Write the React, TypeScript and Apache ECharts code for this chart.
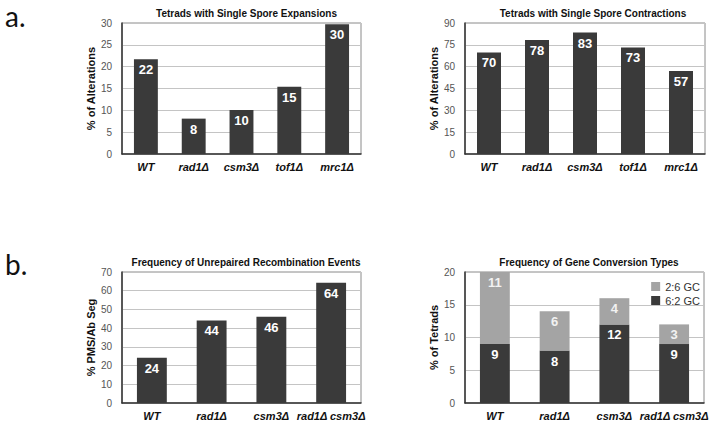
import React, { useEffect, useRef } from "react";
import * as echarts from "echarts";

const catsA = ["WT", "rad1Δ", "csm3Δ", "tof1Δ", "mrc1Δ"];
const expansions = [21.7, 8.1, 10.1, 15.4, 29.7];
const contractions = [69.8, 78.4, 83.4, 73.2, 57.0];
const catsB = ["WT", "rad1Δ", "csm3Δ", "rad1Δ csm3Δ"];
const unrepaired = [24.2, 44.1, 46.1, 64.2];
const gc62 = [9, 8, 12, 9];
const gc26 = [11, 6, 4, 3];

const titles = [
  "Tetrads with Single Spore Expansions",
  "Tetrads with Single Spore Contractions",
  "Frequency of Unrepaired Recombination Events",
  "Frequency of Gene Conversion Types",
];
const yNames = ["% of Alterations", "% of Alterations", "% PMS/Ab Seg", "% of Tetrads"];
const yMax = [30, 90, 70, 20];
const yInterval = [5, 15, 10, 5];

const DARK = "#3a3a3a";
const LIGHT = "#a4a4a4";
const FONT = "Liberation Sans, Arial, Helvetica, sans-serif";

export default function App() {
  const ref = useRef<HTMLDivElement>(null);
  useEffect(() => {
    if (!ref.current) return;
    const chart = echarts.init(ref.current, undefined, { renderer: "svg" });
    const grids = [
      { left: 122, top: 23, width: 239, height: 131 },
      { left: 465, top: 23, width: 240, height: 131 },
      { left: 122, top: 272, width: 239, height: 131 },
      { left: 465, top: 272, width: 239, height: 131 },
    ];
    const cats = [catsA, catsA, catsB, catsB];
    const labelStyle = {
      show: true,
      position: "insideTop" as const,
      distance: 4,
      color: "#ffffff",
      fontSize: 13,
      fontWeight: "bold" as const,
      fontFamily: FONT,
      formatter: (p: any) => String(Math.round(p.value)),
    };
    const titleCenters = [241.5, 588, 241, 584];
    const titleTops = [3, 3, 252, 252];
    const option: any = {
      animation: false,
      backgroundColor: "#ffffff",
      title: titles.map((t, i) => ({
        text: t,
        left: titleCenters[i],
        top: titleTops[i],
        textAlign: "center",
        textStyle: { fontSize: 10, fontWeight: "bold", color: "#111", fontFamily: FONT },
      })),
      grid: grids.map((g) => ({
        ...g,
        show: true,
        borderColor: "#8a8a8a",
        borderWidth: 1,
        backgroundColor: "transparent",
      })),
      xAxis: cats.map((c, i) => ({
        type: "category",
        gridIndex: i,
        data: c,
        axisLine: { show: true, lineStyle: { color: "#333", width: 1.5 } },
        axisTick: { show: false },
        axisLabel: {
          interval: 0,
          color: "#111",
          fontSize: 11,
          fontWeight: "bold",
          fontStyle: "italic",
          fontFamily: FONT,
          margin: 7,
        },
      })),
      yAxis: yMax.map((m, i) => ({
        type: "value",
        gridIndex: i,
        min: 0,
        max: m,
        interval: yInterval[i],
        name: yNames[i],
        nameLocation: "middle",
        nameGap: 26,
        nameTextStyle: { fontSize: 11, fontWeight: "bold", color: "#111", fontFamily: FONT },
        axisLine: { show: true, lineStyle: { color: "#333", width: 1.5 } },
        axisTick: { show: false },
        axisLabel: { color: "#555", fontSize: 10, fontFamily: FONT, margin: 10 },
        splitLine: { show: true, lineStyle: { color: "#c4c4c4", width: 1 } },
      })),
      legend: {
        data: ["2:6 GC", "6:2 GC"],
        orient: "vertical",
        right: 9,
        top: 276,
        itemWidth: 9,
        itemHeight: 9,
        itemGap: 3,
        icon: "rect",
        textStyle: { fontSize: 11, color: "#333", fontFamily: FONT, padding: [0, 0, 0, 0] },
      },
      series: [
        {
          type: "bar",
          xAxisIndex: 0,
          yAxisIndex: 0,
          data: expansions,
          barCategoryGap: "50%",
          itemStyle: { color: DARK },
          label: labelStyle,
        },
        {
          type: "bar",
          xAxisIndex: 1,
          yAxisIndex: 1,
          data: contractions,
          barCategoryGap: "50%",
          itemStyle: { color: DARK },
          label: labelStyle,
        },
        {
          type: "bar",
          xAxisIndex: 2,
          yAxisIndex: 2,
          data: unrepaired,
          barCategoryGap: "50%",
          itemStyle: { color: DARK },
          label: labelStyle,
        },
        {
          name: "6:2 GC",
          type: "bar",
          xAxisIndex: 3,
          yAxisIndex: 3,
          stack: "gc",
          data: gc62,
          barCategoryGap: "50%",
          itemStyle: { color: DARK },
          label: labelStyle,
        },
        {
          name: "2:6 GC",
          type: "bar",
          xAxisIndex: 3,
          yAxisIndex: 3,
          stack: "gc",
          data: gc26,
          barCategoryGap: "50%",
          itemStyle: { color: LIGHT },
          label: { ...labelStyle, color: "#f2f2f2" },
        },
      ],
      graphic: [
        {
          type: "text",
          left: 5,
          top: 2,
          style: { text: "a.", fontSize: 28, fill: "#111", fontFamily: "Lato, DejaVu Sans, sans-serif" },
        },
        {
          type: "text",
          left: 5,
          top: 250,
          style: { text: "b.", fontSize: 28, fill: "#111", fontFamily: "Lato, DejaVu Sans, sans-serif" },
        },
      ],
    };
    chart.setOption(option);
    return () => chart.dispose();
  }, []);
  return (
    <div
      ref={ref}
      style={{ position: "absolute", left: 0, top: 0, width: 714, height: 424, background: "#fff" }}
    />
  );
}
